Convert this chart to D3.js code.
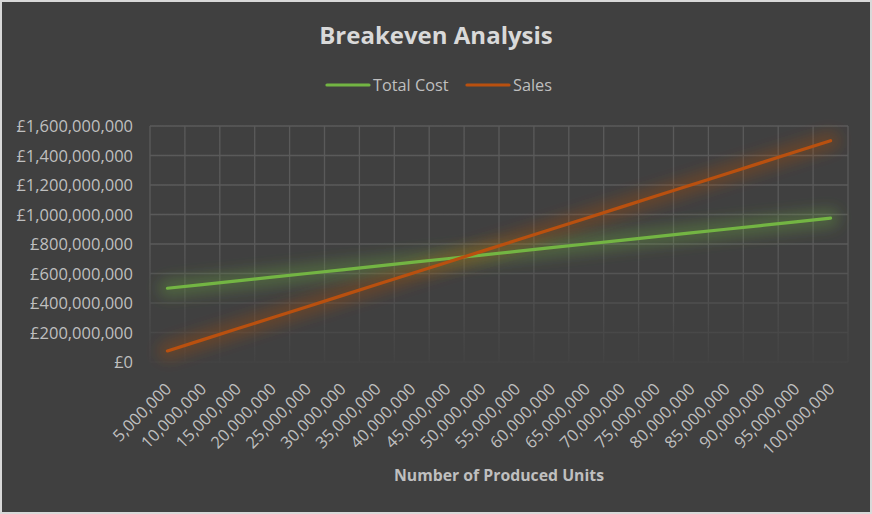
<!DOCTYPE html>
<html><head><meta charset="utf-8">
<script src="https://cdn.jsdelivr.net/npm/d3@7"></script>
<style>
html,body{margin:0;padding:0;background:#d9d9d9;}
svg{display:block;}
text{font-family:"Open Sans",Lato,sans-serif;}
</style></head>
<body><svg id="c" width="872" height="514"></svg>
<script>
const units = [5e6,10e6,15e6,20e6,25e6,30e6,35e6,40e6,45e6,50e6,55e6,60e6,65e6,70e6,75e6,80e6,85e6,90e6,95e6,100e6];
const totalCost = [500e6,525e6,550e6,575e6,600e6,625e6,650e6,675e6,700e6,725e6,750e6,775e6,800e6,825e6,850e6,875e6,900e6,925e6,950e6,975e6];
const sales = [75e6,150e6,225e6,300e6,375e6,450e6,525e6,600e6,675e6,750e6,825e6,900e6,975e6,1050e6,1125e6,1200e6,1275e6,1350e6,1425e6,1500e6];
const yTicks = [0,200e6,400e6,600e6,800e6,1000e6,1200e6,1400e6,1600e6];
const seriesNames = ["Total Cost","Sales"];
const seriesColors = ["#73b543","#b9500f"];

const svg = d3.select("#c");
svg.append("rect").attr("x",2).attr("y",2).attr("width",868).attr("height",510).attr("fill","#404040");

const defs = svg.append("defs");
const glow = defs.append("filter").attr("id","glow").attr("x","-20%").attr("y","-80%").attr("width","140%").attr("height","260%");
glow.append("feGaussianBlur").attr("in","SourceGraphic").attr("stdDeviation",7);

const gridGrad = defs.append("linearGradient").attr("id","gridfade").attr("gradientUnits","userSpaceOnUse")
  .attr("x1",0).attr("y1",126).attr("x2",0).attr("y2",362);
gridGrad.append("stop").attr("offset","0.5").attr("stop-color","#5a5a5a");
gridGrad.append("stop").attr("offset","1").attr("stop-color","#434343");

const L=150, R=848, T=126, B=362;
const x = d3.scaleBand().domain(units).range([L,R]);
const y = d3.scaleLinear().domain([0,1600e6]).range([B,T]);

// gridlines
const grid = svg.append("g");
grid.selectAll("line.h").data(yTicks).join("line")
  .attr("x1",L).attr("x2",R).attr("y1",d=>y(d)).attr("y2",d=>y(d))
  .attr("stroke","url(#gridfade)").attr("stroke-width",1.3);
const vx = units.map(u=>x(u)).concat([R]);
grid.selectAll("line.v").data(vx).join("line")
  .attr("x1",d=>d).attr("x2",d=>d).attr("y1",T).attr("y2",B)
  .attr("stroke","url(#gridfade)").attr("stroke-width",1.3);

// y axis
const fmtY = v => "£" + d3.format(",")(v);
const yAxis = d3.axisLeft(y).tickValues(yTicks).tickFormat(fmtY).tickSize(0).tickPadding(17);
const ya = svg.append("g").attr("transform",`translate(${L},0)`).call(yAxis);
ya.select(".domain").remove();
ya.selectAll("text").attr("fill","#bfbfbf").attr("font-size",16.5).attr("dy","0.35em");

// x axis
const xAxis = d3.axisBottom(x).tickFormat(d3.format(",")).tickSize(0).tickPadding(0);
const xa = svg.append("g").attr("transform",`translate(0,${B})`).call(xAxis);
xa.select(".domain").remove();
xa.selectAll("text").attr("fill","#bfbfbf").attr("font-size",16.5)
  .attr("text-anchor","end").attr("dy",0).attr("y",0)
  .attr("transform","translate(5,28) rotate(-45)");

// lines
const line = d3.line().x((d,i)=>x(units[i])+x.bandwidth()/2).y(d=>y(d));
[totalCost,sales].forEach((s,k)=>{
  svg.append("path").datum(s).attr("d",line).attr("fill","none")
    .attr("stroke",seriesColors[k]).attr("stroke-width",18).attr("stroke-linecap","round")
    .attr("stroke-opacity",0.3).attr("filter","url(#glow)");
});
[totalCost,sales].forEach((s,k)=>{
  svg.append("path").datum(s).attr("d",line).attr("fill","none")
    .attr("stroke",seriesColors[k]).attr("stroke-width",3.2).attr("stroke-linecap","round");
});

// title
svg.append("text").attr("x",436).attr("y",44).attr("text-anchor","middle")
  .attr("font-size",24).attr("font-weight","bold").attr("fill","#d9d9d9").text("Breakeven Analysis");

// legend
const legX = [327,467];
seriesNames.forEach((n,k)=>{
  const g = svg.append("g").attr("transform",`translate(${legX[k]},85)`);
  g.append("line").attr("x1",0).attr("x2",42).attr("stroke",seriesColors[k]).attr("stroke-width",3.2).attr("stroke-linecap","round");
  g.append("text").attr("x",46).attr("dy","0.35em").attr("font-size",16.3).attr("fill","#bfbfbf").text(n);
});

// axis title
svg.append("text").attr("x",499).attr("y",481).attr("text-anchor","middle")
  .attr("font-size",15.8).attr("font-weight","bold").attr("fill","#bfbfbf").text("Number of Produced Units");
</script></body></html>
